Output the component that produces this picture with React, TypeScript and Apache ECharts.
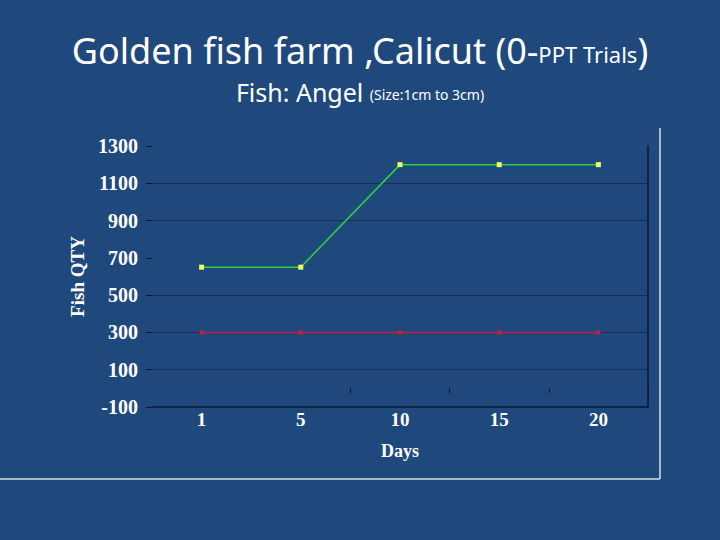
import React, { useEffect, useRef } from 'react';
import * as echarts from 'echarts';

const days = ['1', '5', '10', '15', '20'];
const greenQty = [650, 650, 1200, 1200, 1200];
const redQty = [300, 300, 300, 300, 300];
const yMin = -100;
const yMax = 1300;
const yStep = 200;

const BG = '#1F497D';
const SERIF = '"Liberation Serif", "Times New Roman", serif';
const SANS = '"Noto Sans", sans-serif';

const App: React.FC = () => {
  const chartRef = useRef<HTMLDivElement>(null);

  useEffect(() => {
    if (!chartRef.current) return;
    const chart = echarts.init(chartRef.current, undefined, { renderer: 'svg' });

    const labelStyle = { color: '#ffffff', fontFamily: SERIF, fontWeight: 'bold' as const, fontSize: 18 };

    const option = {
      animation: false,
      backgroundColor: BG,
      title: [
        {
          text: '{a|Golden fish farm ,Calicut (0-}{b|PPT Trials}{a|)}',
          left: 'center',
          top: 27,
          textStyle: {
            rich: {
              a: { fontFamily: SANS, fontSize: 36, fontWeight: 'normal', color: '#ffffff', verticalAlign: 'bottom' },
              b: { fontFamily: SANS, fontSize: 22, fontWeight: 'normal', color: '#ffffff', verticalAlign: 'bottom', padding: [0, 0, 3, 0] },
            },
          },
        },
        {
          text: '{a|Fish: Angel }{b|(Size:1cm to 3cm)}',
          left: 'center',
          top: 74,
          textStyle: {
            rich: {
              a: { fontFamily: SANS, fontSize: 25, fontWeight: 'normal', color: '#ffffff', verticalAlign: 'bottom' },
              b: { fontFamily: SANS, fontSize: 14, fontWeight: 'normal', color: '#ffffff', verticalAlign: 'bottom', padding: [0, 0, 3, 0] },
            },
          },
        },
      ],
      grid: { left: 152, right: 72, top: 146, bottom: 133 },
      xAxis: [
        {
          type: 'category',
          data: days,
          boundaryGap: true,
          name: 'Days',
          nameLocation: 'middle',
          nameGap: 35,
          nameTextStyle: { ...labelStyle, fontSize: 18 },
          axisLine: { show: true, onZero: false, lineStyle: { color: '#0a1630', width: 1.5 } },
          axisTick: { show: false },
          axisLabel: { ...labelStyle, fontSize: 19, margin: 3 },
          splitLine: { show: false },
        },
        {
          type: 'category',
          data: days,
          boundaryGap: true,
          position: 'bottom',
          offset: -14,
          axisLine: { show: false, onZero: false },
          axisLabel: { show: false },
          axisTick: {
            show: true,
            inside: true,
            length: 5,
            interval: (index: number) => index >= 2 && index <= 4,
            lineStyle: { color: '#0a1630', width: 1 },
          },
          splitLine: { show: false },
        },
      ],
      yAxis: [
        {
          type: 'value',
          min: yMin,
          max: yMax,
          interval: yStep,
          name: 'Fish QTY',
          nameLocation: 'middle',
          nameGap: 65,
          nameRotate: 90,
          nameTextStyle: { ...labelStyle, fontSize: 19 },
          axisLine: { show: false },
          axisTick: { show: true, length: 6, lineStyle: { color: '#0a1630' } },
          axisLabel: { ...labelStyle, fontSize: 20, margin: 14, formatter: (v: number) => String(v) },
          splitLine: {
            show: true,
            lineStyle: {
              color: ['transparent', '#1a2f52', '#1a2f52', '#1a2f52', 'transparent', '#1a2f52', '#1a2f52', 'transparent'],
              width: 1,
            },
          },
        },
        {
          type: 'value',
          min: yMin,
          max: yMax,
          interval: yStep,
          position: 'right',
          axisLine: { show: true, lineStyle: { color: '#0a1630', width: 1.5 } },
          axisTick: { show: false },
          axisLabel: { show: false },
          splitLine: { show: false },
        },
      ],
      series: [
        {
          type: 'line',
          data: greenQty,
          symbol: 'rect',
          symbolSize: 5,
          lineStyle: { color: '#2FD04A', width: 1.5 },
          itemStyle: { color: '#F2FF5A' },
        },
        {
          type: 'line',
          data: redQty,
          symbol: 'rect',
          symbolSize: 4,
          lineStyle: { color: '#C21F3E', width: 1.5 },
          itemStyle: { color: '#C21F3E' },
        },
      ],
      graphic: [
        {
          type: 'line',
          shape: { x1: 660, y1: 128, x2: 660, y2: 479 },
          style: { stroke: '#d8dde6', lineWidth: 1.5 },
        },
        {
          type: 'line',
          shape: { x1: 0, y1: 479, x2: 660, y2: 479 },
          style: { stroke: '#d8dde6', lineWidth: 1.5 },
        },
      ],
    };

    chart.setOption(option);
    return () => {
      chart.dispose();
    };
  }, []);

  return <div ref={chartRef} style={{ position: 'fixed', left: 0, top: 0, width: 720, height: 540 }} />;
};

export default App;
